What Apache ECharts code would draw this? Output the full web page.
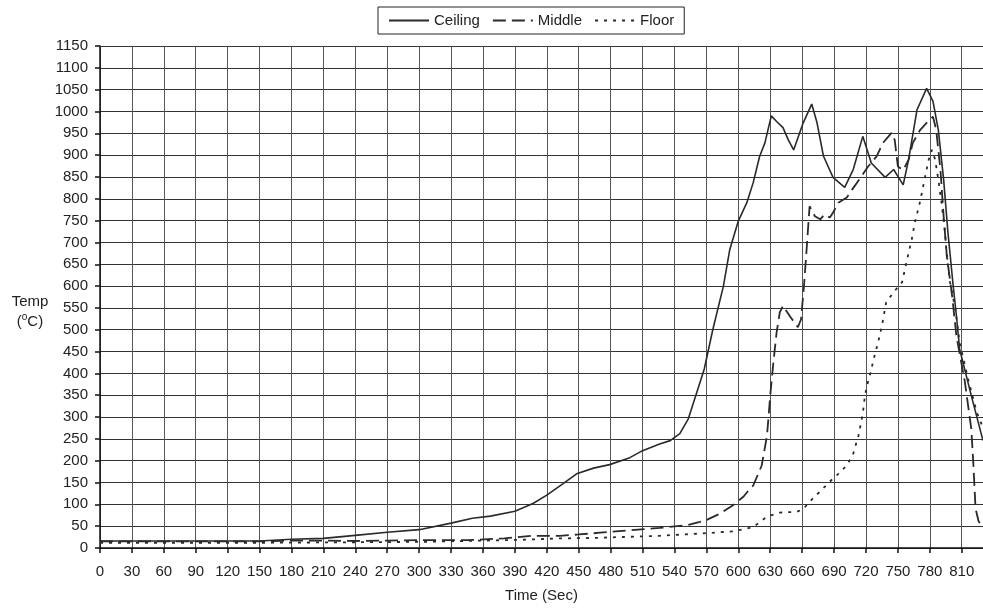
<!DOCTYPE html>
<html>
<head>
<meta charset="utf-8">
<script src="https://cdn.jsdelivr.net/npm/echarts@6/dist/echarts.min.js"></script>
<style>html,body{margin:0;padding:0;background:#fff;}#c{width:983px;height:608px;}</style>
</head>
<body>
<div id="c"></div>
<script>
// ---- data ----
var seriesNames = ['Ceiling', 'Middle', 'Floor'];
var xTickLabels = [0,30,60,90,120,150,180,210,240,270,300,330,360,390,420,450,480,510,540,570,600,630,660,690,720,750,780,810];
var yTickLabels = [0,50,100,150,200,250,300,350,400,450,500,550,600,650,700,750,800,850,900,950,1000,1050,1100,1150];

var ceilingTime = [0,150,180,210,240,270,300,330,350,367,390,407,420,435,448,464,479,498,510,526,536,545,553,562,568,576,586,592,600,608,614,620,625,631,636,642,647,652,661,669,674,680,689,700,708,717,725,738,746,755,760,768,777,783,788,793,797,802,805,808,819,830];
var ceilingTemp = [16,16,20,22,29,36,42,57,68,73,84,102,121,147,170,183,191,207,223,238,246,262,296,364,410,500,600,684,749,791,837,897,928,990,977,963,935,912,974,1017,974,898,849,826,867,943,882,849,867,832,889,1004,1053,1023,958,844,724,600,532,456,349,246];

var middleTime = [0,150,180,210,240,270,300,345,380,407,432,450,470,495,526,551,564,570,583,595,605,611,614,622,627,630,633,636,639,642,649,656,659,662,664,667,672,677,681,686,689,694,702,707,715,722,730,736,744,747,750,755,760,764,771,777,783,786,790,793,796,801,805,813,819,821,823,826,830];
var middleTemp = [15,15,17,17,16,17,18,18,22,28,28,31,35,40,46,52,60,64,79,98,118,136,143,189,258,349,426,494,540,555,529,506,524,609,677,783,760,753,764,757,768,791,803,821,849,874,897,928,951,935,874,866,889,928,958,974,988,958,866,760,669,577,486,380,273,189,90,60,52];

var floorTime = [0,150,300,400,432,464,526,564,595,614,627,639,655,661,667,677,686,694,702,708,713,717,719,721,724,728,731,735,739,746,754,758,763,766,771,775,779,782,785,788,791,794,796,799,804,808,816,824,830];
var floorTemp = [12,12,14,19,22,23,28,33,38,48,72,81,83,89,106,130,152,170,189,216,258,307,349,372,399,440,467,509,563,586,609,654,707,746,795,844,890,912,890,844,791,730,669,609,547,471,387,312,275];

function zip(t, v) { return t.map(function (x, i) { return [x, v[i]]; }); }

var font = 'Liberation Sans, Arial, sans-serif';
var lineColor = '#2a2a2a';

var chart = echarts.init(document.getElementById('c'));
chart.setOption({
  backgroundColor: '#fff',
  animation: false,
  textStyle: { fontFamily: font },
  legend: {
    left: 378, top: 7,
    data: seriesNames,
    itemWidth: 40, itemHeight: 14, itemGap: 12,
    padding: [6, 10],
    borderColor: '#222', borderWidth: 1,
    itemStyle: { opacity: 0 },
    textStyle: { fontFamily: font, fontSize: 15, color: '#222' }
  },
  grid: { left: 100, right: 0, top: 46, bottom: 58.5 },
  xAxis: {
    type: 'value', min: 0, max: 830, interval: 30,
    name: 'Time (Sec)', nameLocation: 'middle', nameGap: 40,
    nameTextStyle: { fontFamily: font, fontSize: 15, color: '#222' },
    axisLine: { lineStyle: { color: '#111', width: 1.5 } },
    axisTick: { show: true, inside: false, length: 5, lineStyle: { color: '#111', width: 1.5 } },
    axisLabel: { showMaxLabel: false, margin: 16, fontFamily: font, fontSize: 15, color: '#222',
      formatter: function (v) { return xTickLabels.indexOf(v) >= 0 ? String(v) : ''; } },
    splitLine: { show: true, lineStyle: { color: '#555', width: 1 } }
  },
  yAxis: {
    type: 'value', min: 0, max: 1150, interval: 50,
    axisLine: { show: true, lineStyle: { color: '#111', width: 1.5 } },
    axisTick: { show: true, inside: false, length: 5, lineStyle: { color: '#111', width: 1.5 } },
    axisLabel: { margin: 12, fontFamily: font, fontSize: 15, color: '#222',
      formatter: function (v) { return yTickLabels.indexOf(v) >= 0 ? String(v) : ''; } },
    splitLine: { show: true, lineStyle: { color: '#333', width: 1 } }
  },
  graphic: [{
    type: 'text', x: 30, y: 292,
    style: {
      text: 'Temp\n({s|o}C)',
      fontFamily: font, fontSize: 15, fill: '#222',
      textAlign: 'center', textVerticalAlign: 'top', lineHeight: 20,
      rich: { s: { fontFamily: font, fontSize: 10, fill: '#222', verticalAlign: 'top', padding: [0, 0, 6, 0] } }
    }
  }],
  series: [
    { name: 'Ceiling', type: 'line', data: zip(ceilingTime, ceilingTemp), symbol: 'none', smooth: false,
      lineStyle: { color: lineColor, width: 1.6, type: 'solid' }, itemStyle: { color: lineColor } },
    { name: 'Middle', type: 'line', data: zip(middleTime, middleTemp), symbol: 'none', smooth: false,
      lineStyle: { color: lineColor, width: 1.8, type: [13, 6] }, itemStyle: { color: lineColor } },
    { name: 'Floor', type: 'line', data: zip(floorTime, floorTemp), symbol: 'none', smooth: false,
      lineStyle: { color: lineColor, width: 1.8, type: [3, 6] }, itemStyle: { color: lineColor } }
  ]
});
</script>
</body>
</html>
